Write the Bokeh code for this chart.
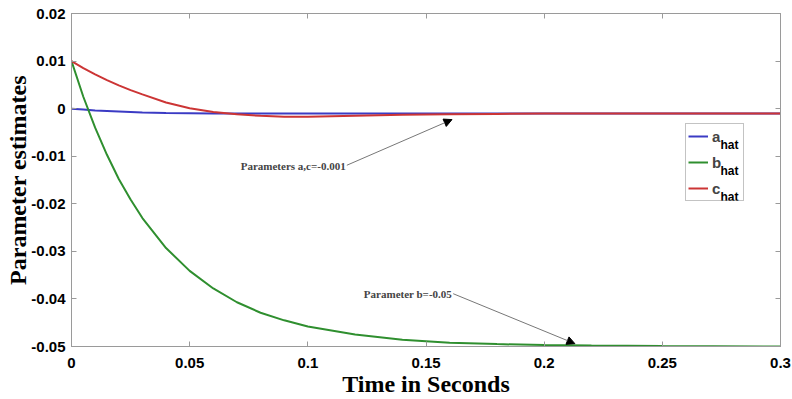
from bokeh.plotting import figure
from bokeh.models import (FixedTicker, LinearAxis, Range1d, Legend, LegendItem,
                          Label, Arrow, NormalHead)
from bokeh.embed import file_html
from bokeh.resources import INLINE

# ---- data ----
time = [0, 0.005, 0.01, 0.015, 0.02, 0.025, 0.03, 0.04, 0.05, 0.06, 0.07,
        0.08, 0.09, 0.1, 0.12, 0.14, 0.16, 0.18, 0.2, 0.22, 0.25, 0.3]
a_hat = [0, -0.0002, -0.0004, -0.0005, -0.0006, -0.0007, -0.0008, -0.0009,
         -0.00095, -0.001, -0.001, -0.001, -0.001, -0.001, -0.001, -0.001,
         -0.001, -0.001, -0.001, -0.001, -0.001, -0.001]
b_hat = [0.01, 0.0025, -0.0040, -0.0097, -0.0148, -0.0191, -0.0230, -0.0293,
         -0.0341, -0.0378, -0.0407, -0.0429, -0.0445, -0.0458, -0.0475,
         -0.0486, -0.0492, -0.0495, -0.0497, -0.0498, -0.0499, -0.0500]
c_hat = [0.01, 0.0085, 0.0072, 0.0060, 0.0049, 0.0039, 0.0030, 0.0013,
         0.0001, -0.0007, -0.0012, -0.0015, -0.0017, -0.0017, -0.0015,
         -0.0013, -0.0012, -0.0011, -0.0010, -0.0010, -0.0010, -0.0010]

x_ticks = [0, 0.05, 0.1, 0.15, 0.2, 0.25, 0.3]
x_tick_labels = ["0", "0.05", "0.1", "0.15", "0.2", "0.25", "0.3"]
y_ticks = [-0.05, -0.04, -0.03, -0.02, -0.01, 0, 0.01, 0.02]
y_tick_labels = ["-0.05", "-0.04", "-0.03", "-0.02", "-0.01", "0", "0.01", "0.02"]

series_names = ["a", "b", "c"]
series_sub = "hat"
series_colors = ["#3b3bc4", "#2f8f2f", "#cc3535"]

note_ac = "Parameters a,c=-0.001"
note_b = "Parameter b=-0.05"

p = figure(width=792, height=399, output_backend="svg", toolbar_location=None,
           x_range=Range1d(0, 0.3), y_range=Range1d(-0.05, 0.02),
           min_border_left=71, min_border_right=12, min_border_top=13,
           min_border_bottom=0, x_axis_label="Time in Seconds",
           y_axis_label="Parameter estimates")
p.xgrid.visible = False
p.ygrid.visible = False
p.outline_line_color = "#9a9a9a"
p.background_fill_color = "white"
p.border_fill_color = "white"

AXIS_GRAY = "#9a9a9a"
for ax in p.xaxis + p.yaxis:
    ax.axis_line_color = AXIS_GRAY
    ax.major_tick_line_color = AXIS_GRAY
    ax.minor_tick_line_color = None
    ax.major_tick_in = 5
    ax.major_tick_out = 0
    ax.major_label_text_font = "Liberation Sans"
    ax.major_label_text_font_style = "bold"
    ax.major_label_text_font_size = "15px"
    ax.major_label_text_color = "black"
    ax.axis_label_text_font = "Liberation Serif"
    ax.axis_label_text_font_style = "bold"
    ax.axis_label_text_font_size = "24px"
    ax.axis_label_text_color = "black"

p.xaxis.ticker = FixedTicker(ticks=x_ticks)
p.yaxis.ticker = FixedTicker(ticks=y_ticks)
p.xaxis.major_label_overrides = dict(zip(x_ticks, x_tick_labels))
p.yaxis.major_label_overrides = dict(zip(y_ticks, y_tick_labels))
p.xaxis.major_label_standoff = 11
p.yaxis.major_label_standoff = 6
p.xaxis.axis_label_standoff = 0
p.yaxis.axis_label_standoff = -3

top = LinearAxis(ticker=FixedTicker(ticks=x_ticks),
                 major_label_overrides={t: "" for t in x_ticks},
                 axis_line_color=AXIS_GRAY, major_tick_line_color=AXIS_GRAY,
                 minor_tick_line_color=None, major_tick_in=5, major_tick_out=0,
                 major_label_standoff=0)
right = LinearAxis(ticker=FixedTicker(ticks=y_ticks),
                   major_label_overrides={t: "" for t in y_ticks},
                   axis_line_color=AXIS_GRAY, major_tick_line_color=AXIS_GRAY,
                   minor_tick_line_color=None, major_tick_in=5, major_tick_out=0,
                   major_label_standoff=0)
p.add_layout(top, "above")
p.add_layout(right, "right")

renderers = []
for ys, col in zip([a_hat, b_hat, c_hat], series_colors):
    r = p.line(time, ys, line_color=col, line_width=2)
    renderers.append(r)

LEG_X, LEG_Y, PAD, GH, SP, STAND, GW = 614, 145, 2, 20, 6, 4, 20
legend = Legend(items=[LegendItem(label=n, renderers=[r]) for n, r in zip(series_names, renderers)],
                location=(LEG_X, LEG_Y), padding=PAD, spacing=SP, glyph_width=GW,
                glyph_height=GH, label_height=GH, label_width=29, label_standoff=STAND,
                label_text_font="Liberation Sans", label_text_font_style="bold",
                label_text_font_size="15px", border_line_color="#888888",
                background_fill_alpha=0.0, margin=0)
p.add_layout(legend, "center")

# subscripts "hat" beside the legend labels (screen units, frame-relative)
leg_top = LEG_Y + 2 * PAD + 3 * GH + 2 * SP
for i in range(3):
    cy = leg_top - PAD - GH / 2 - i * (GH + SP)
    p.add_layout(Label(x=LEG_X + PAD + GW + STAND + 9, y=cy - 7,
                       x_units="screen", y_units="screen", level="overlay",
                       text=series_sub, text_font="Liberation Sans", text_font_style="bold",
                       text_font_size="12px", text_baseline="middle", text_color="black"))

# annotations
p.add_layout(Label(x=0.116, y=-0.012, text=note_ac, text_align="right",
                   text_baseline="middle", text_font="Liberation Serif",
                   text_font_style="bold", text_font_size="11px"))
p.add_layout(Arrow(x_start=0.1165, y_start=-0.0119, x_end=0.161, y_end=-0.0023,
                   line_color="#777777", line_width=1,
                   end=NormalHead(size=8, fill_color="black", line_color="black")))
p.add_layout(Label(x=0.161, y=-0.0389, text=note_b, text_align="right",
                   text_baseline="middle", text_font="Liberation Serif",
                   text_font_style="bold", text_font_size="11px"))
p.add_layout(Arrow(x_start=0.1615, y_start=-0.0389, x_end=0.213, y_end=-0.0494,
                   line_color="#777777", line_width=1,
                   end=NormalHead(size=8, fill_color="black", line_color="black")))

open("out.html", "w").write(file_html(p, INLINE))
